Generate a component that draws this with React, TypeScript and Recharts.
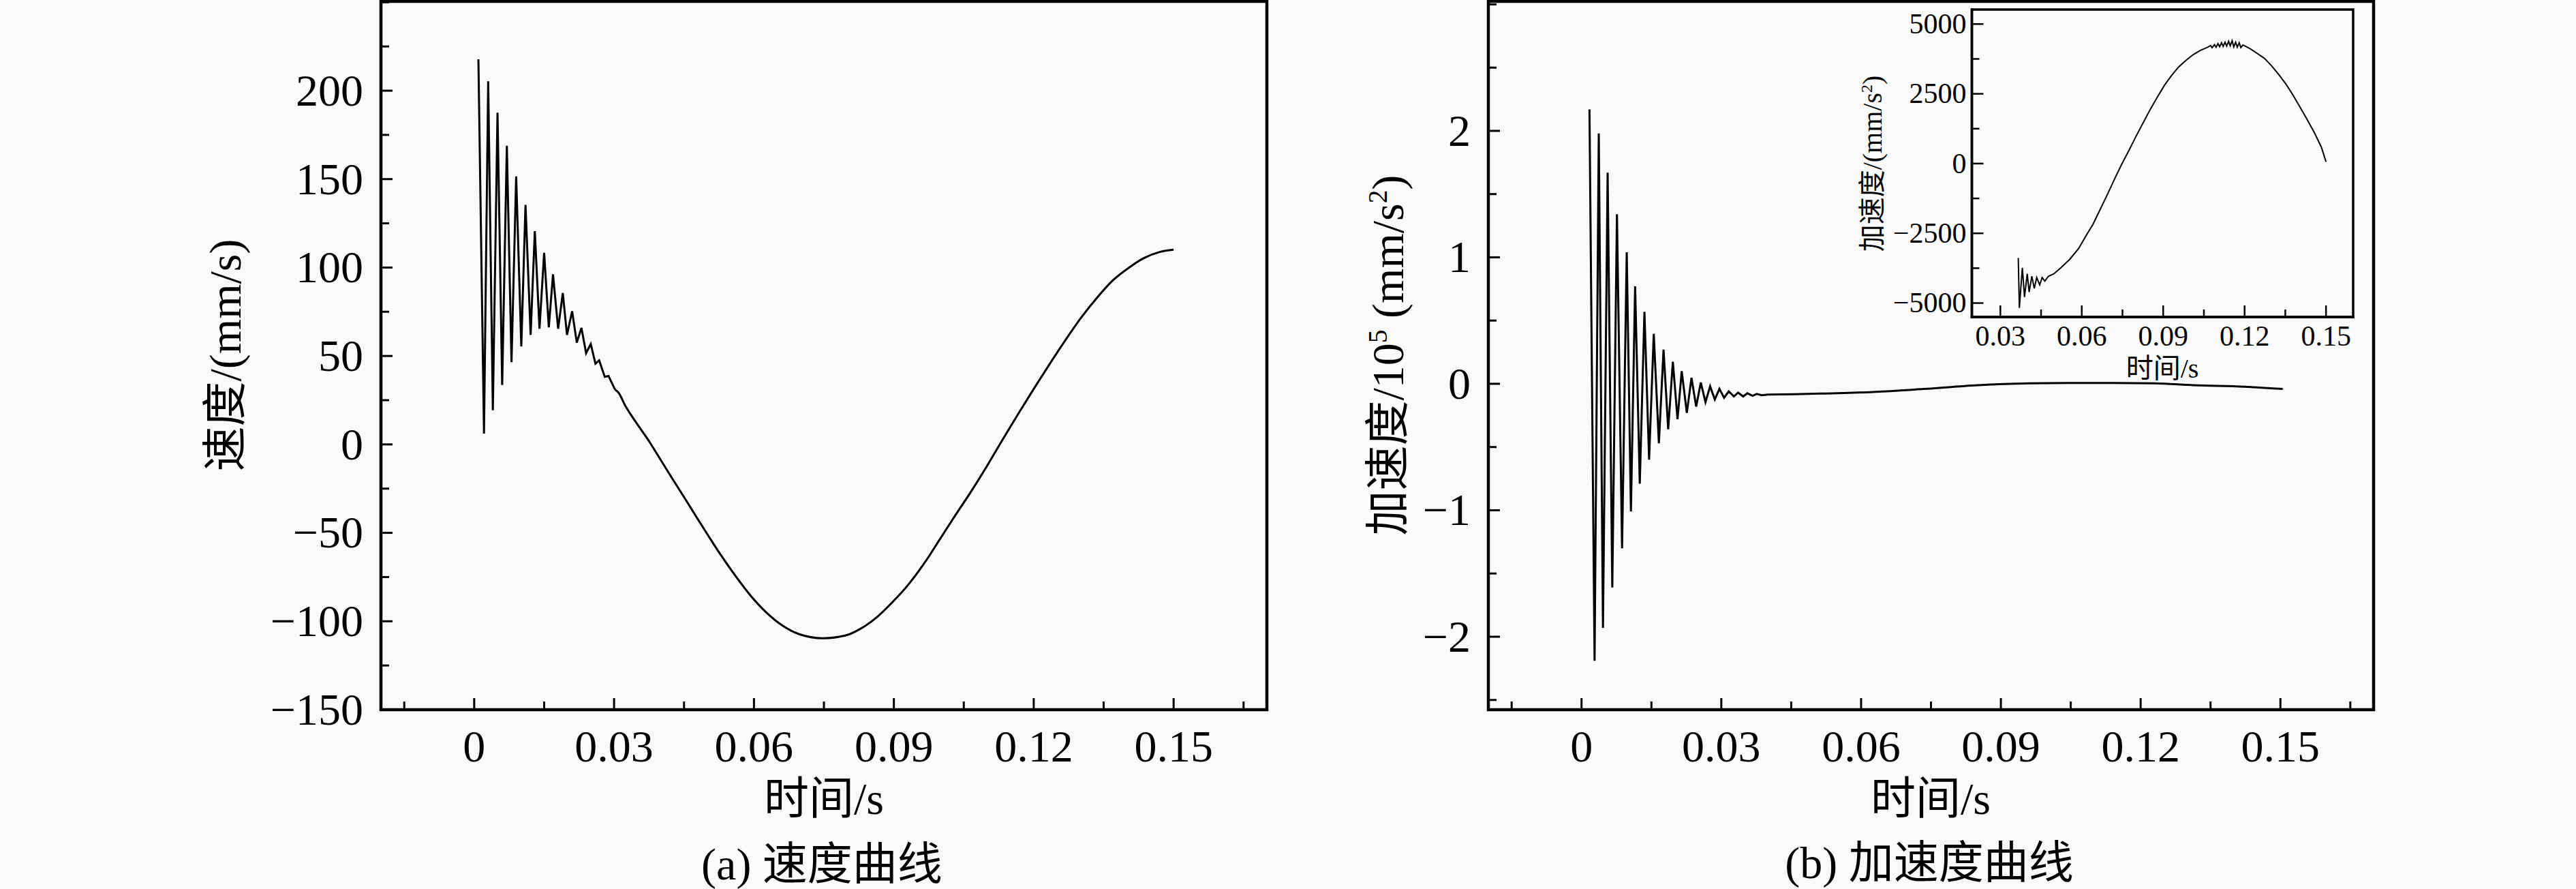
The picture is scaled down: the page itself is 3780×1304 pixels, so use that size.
import React from "react";
import { LineChart, Line, XAxis, YAxis, ReferenceArea } from "recharts";

const FONT = "'Liberation Serif', 'Times New Roman', 'Noto Sans CJK SC', serif";
const BG = "#fafafa";

// (a) velocity, mm/s — decaying vibration, then the smooth part
const velOscTime = [
  0.0009, 0.0021, 0.003, 0.004, 0.005, 0.006, 0.007, 0.008, 0.009, 0.0101,
  0.011, 0.0121, 0.013, 0.014, 0.015, 0.016, 0.0169, 0.018, 0.019, 0.0199,
  0.021, 0.022, 0.023, 0.024, 0.025, 0.026, 0.0268, 0.028, 0.0288, 0.0302,
];
const velOscValue = [
  217.7, 6.1, 205.3, 19.3, 187.6, 33.6, 168.9, 46.5, 151.5, 55.4,
  135.4, 61.9, 120.6, 65.4, 108.3, 66.2, 96.2, 65.4, 85.6, 61.9,
  75.3, 57.6, 65.9, 51.6, 56.8, 45.6, 47.5, 38.2, 38.7, 31.0,
];
const velTime = [
  0.0302, 0.0309, 0.0325, 0.0351, 0.0376, 0.0401, 0.0426, 0.0452, 0.0477, 0.0502,
  0.0527, 0.0561, 0.0595, 0.0628, 0.0662, 0.0696, 0.0748, 0.0797, 0.083, 0.0864,
  0.0898, 0.0931, 0.0965, 0.0999, 0.1032, 0.1066, 0.11, 0.1134, 0.1167, 0.1201,
  0.1234, 0.1268, 0.1302, 0.1336, 0.1369, 0.1403, 0.1436, 0.147, 0.15,
];
const velValue = [
  31.0, 29.4, 21.4, 11.0, 1.4, -9.2, -19.8, -30.6, -41.2, -51.6,
  -61.8, -74.6, -86.2, -95.4, -102.6, -107.2, -109.6, -108.0, -104.0, -97.6,
  -88.9, -79.3, -67.3, -53.5, -40.0, -26.5, -12.1, 3.0, 17.4, 31.8,
  45.4, 59.0, 71.8, 83.0, 92.6, 99.7, 105.3, 108.8, 110.1,
];

// (b) acceleration, 10^5 mm/s^2
const accOscTime = [
  0.0017, 0.0028, 0.0037, 0.0046, 0.0056, 0.0066, 0.0076, 0.0087, 0.0097, 0.0106,
  0.0115, 0.0125, 0.0135, 0.0145, 0.0155, 0.0166, 0.0176, 0.0186, 0.0196, 0.0206,
  0.0215, 0.0226, 0.0236, 0.0246, 0.0256, 0.0266, 0.0276, 0.0286, 0.0296, 0.0306,
  0.0316, 0.0327, 0.0336, 0.0347, 0.0356, 0.0367, 0.0376, 0.0387, 0.04,
];
const accOscValue = [
  2.17, -2.19, 1.98, -1.93, 1.67, -1.61, 1.34, -1.3, 1.04, -1.01,
  0.77, -0.79, 0.57, -0.6, 0.395, -0.47, 0.27, -0.36, 0.175, -0.28,
  0.1, -0.23, 0.047, -0.18, 0.01, -0.145, -0.02, -0.124, -0.04, -0.11,
  -0.06, -0.1, -0.07, -0.1, -0.075, -0.095, -0.08, -0.09, -0.085,
];
const accTime = [0.04, 0.0457, 0.0515, 0.0625, 0.0734, 0.0851, 0.0961, 0.1045, 0.114, 0.1229, 0.1314, 0.1423, 0.1505];
const accValue = [-0.085, -0.083, -0.077, -0.065, -0.041, -0.011, 0.004, 0.007, 0.007, 0.004, -0.011, -0.023, -0.041];

// inset, mm/s^2
const insetTime = [
  0.0366, 0.037, 0.0381, 0.0389, 0.0399, 0.0406, 0.0416, 0.0425, 0.0434, 0.0445,
  0.0454, 0.0464, 0.0477, 0.0497, 0.0523, 0.0556, 0.0589, 0.0615, 0.0642, 0.0668,
  0.0694, 0.0721, 0.0747, 0.0773, 0.08, 0.0826, 0.0852, 0.0878, 0.0905, 0.0931,
  0.0957, 0.0984, 0.101, 0.1036, 0.1062, 0.1075, 0.108, 0.1089, 0.1095, 0.1102,
  0.1108, 0.1115, 0.1121, 0.1128, 0.1134, 0.1141, 0.1147, 0.1154, 0.116, 0.1167,
  0.1173, 0.118, 0.1186, 0.1194, 0.122, 0.1247, 0.1273, 0.1299, 0.1325, 0.1352,
  0.1378, 0.1404, 0.143, 0.1457, 0.1483, 0.15,
];
const insetValue = [
  -3385, -5175, -3735, -4782, -3953, -4607, -4040, -4476, -4084, -4346,
  -4084, -4215, -4040, -3953, -3735, -3429, -3037, -2600, -2164, -1640,
  -1117, -550, -26, 454, 977, 1457, 1937, 2373, 2810, 3159,
  3464, 3700, 3900, 4049, 4162, 4230, 4150, 4260, 4170, 4300,
  4190, 4330, 4200, 4350, 4210, 4380, 4220, 4400, 4180, 4350,
  4170, 4330, 4160, 4250, 4119, 3944, 3770, 3508, 3202, 2853,
  2461, 2024, 1588, 1108, 585, 61,
];

// ticks (labelled ones are the long ticks)
const timeTicks = [-0.015, 0, 0.015, 0.03, 0.045, 0.06, 0.075, 0.09, 0.105, 0.12, 0.135, 0.15, 0.165];
const timeLabels = [0, 0.03, 0.06, 0.09, 0.12, 0.15];
const velTicks = [-150, -125, -100, -75, -50, -25, 0, 25, 50, 75, 100, 125, 150, 175, 200, 225, 250];
const velLabels = [-150, -100, -50, 0, 50, 100, 150, 200];
const accTicks = [-2.5, -2, -1.5, -1, -0.5, 0, 0.5, 1, 1.5, 2, 2.5, 3];
const accLabels = [-2, -1, 0, 1, 2];
const insetXTicks = [0.03, 0.045, 0.06, 0.075, 0.09, 0.105, 0.12, 0.135, 0.15];
const insetXLabels = [0.03, 0.06, 0.09, 0.12, 0.15];
const insetYTicks = [-5000, -3750, -2500, -1250, 0, 1250, 2500, 3750, 5000];
const insetYLabels = [-5000, -2500, 0, 2500, 5000];

const zip = (ts: number[], vs: number[]) => ts.map((t, i) => ({ t, v: vs[i] }));
const fmt = (v: number) => (v < 0 ? "\u2212" + String(-v) : String(v));
const has = (list: number[], v: number) => list.some((l) => Math.abs(l - v) < 1e-9);

type TickOpt = { major: number; minor: number; sw: number; fs: number; offset: number };

function xTick(labels: number[], o: TickOpt) {
  return (p: any) => {
    const v = p.payload.value;
    const major = has(labels, v);
    return (
      <g>
        <line x1={p.x} x2={p.x} y1={p.y} y2={p.y - (major ? o.major : o.minor)} stroke="#000" strokeWidth={o.sw} />
        {major && (
          <text x={p.x} y={p.y + o.offset} textAnchor="middle" fontFamily={FONT} fontSize={o.fs} fill="#000">
            {fmt(v)}
          </text>
        )}
      </g>
    );
  };
}

function yTick(labels: number[], o: TickOpt) {
  return (p: any) => {
    const v = p.payload.value;
    const major = has(labels, v);
    return (
      <g>
        <line x1={p.x} x2={p.x + (major ? o.major : o.minor)} y1={p.y} y2={p.y} stroke="#000" strokeWidth={o.sw} />
        {major && (
          <text x={p.x - o.offset} y={p.y + o.fs * 0.33} textAnchor="end" fontFamily={FONT} fontSize={o.fs} fill="#000">
            {fmt(v)}
          </text>
        )}
      </g>
    );
  };
}

function Text({ x, y, size, rotate, children }: any) {
  return (
    <div
      style={{
        position: "absolute",
        left: x,
        top: y,
        transform: `translate(-50%, -50%)${rotate ? " rotate(-90deg)" : ""}`,
        fontFamily: FONT,
        fontSize: size,
        lineHeight: 1.1,
        whiteSpace: "nowrap",
        color: "#000",
      }}
    >
      {children}
    </div>
  );
}

const sup = { fontSize: "0.6em", verticalAlign: "0.6em", lineHeight: 0 };

const mainTick: TickOpt = { major: 17, minor: 12, sw: 3, fs: 66, offset: 76 };
const mainYTick: TickOpt = { major: 17, minor: 12, sw: 3, fs: 66, offset: 26 };
const insetTickX: TickOpt = { major: 17, minor: 11, sw: 2.5, fs: 42, offset: 42 };
const insetTickY: TickOpt = { major: 17, minor: 11, sw: 2.5, fs: 42, offset: 8 };
const axisStyle = { stroke: "#000", strokeWidth: 4, strokeLinecap: "square" as const };

export default function App() {
  const velX = [-0.02, 0.17];
  const velY = [-150, 250.5];
  const accY = [-2.577, 3.024];
  const inX = [0.0195, 0.16];
  const inY = [-5500, 5520];
  return (
    <div style={{ position: "absolute", left: 0, top: 0, width: 3780, height: 1304, background: BG, overflow: "hidden" }}>
      {/* (a) velocity */}
      <div style={{ position: "absolute", left: 0, top: 0 }}>
        <LineChart width={1900} height={1150} margin={{ top: 2, right: 41, left: 359, bottom: 9 }}>
          <XAxis dataKey="t" type="number" domain={velX} allowDataOverflow ticks={timeTicks} interval={0} height={100}
            tickSize={0} tickMargin={0} tickLine={false} axisLine={axisStyle} tick={xTick(timeLabels, mainTick)} />
          <YAxis type="number" domain={velY} allowDataOverflow ticks={velTicks} interval={0} width={200}
            tickSize={0} tickMargin={0} tickLine={false} axisLine={axisStyle} tick={yTick(velLabels, mainYTick)} />
          <ReferenceArea x1={velX[0]} x2={velX[1]} y1={velY[0]} y2={velY[1]} fill="none" stroke="#000" strokeWidth={4.5} ifOverflow="visible" />
          <Line data={zip(velOscTime, velOscValue)} dataKey="v" type="linear" stroke="#000" strokeWidth={3} dot={false} activeDot={false} isAnimationActive={false} />
          <Line data={zip(velTime, velValue)} dataKey="v" type="monotone" stroke="#000" strokeWidth={3} dot={false} activeDot={false} isAnimationActive={false} />
        </LineChart>
      </div>

      {/* (b) acceleration */}
      <div style={{ position: "absolute", left: 1900, top: 0 }}>
        <LineChart width={1880} height={1150} margin={{ top: 2, right: 297, left: 84, bottom: 9 }}>
          <XAxis dataKey="t" type="number" domain={velX} allowDataOverflow ticks={timeTicks} interval={0} height={100}
            tickSize={0} tickMargin={0} tickLine={false} axisLine={axisStyle} tick={xTick(timeLabels, mainTick)} />
          <YAxis type="number" domain={accY} allowDataOverflow ticks={accTicks} interval={0} width={200}
            tickSize={0} tickMargin={0} tickLine={false} axisLine={axisStyle} tick={yTick(accLabels, mainYTick)} />
          <ReferenceArea x1={velX[0]} x2={velX[1]} y1={accY[0]} y2={accY[1]} fill="none" stroke="#000" strokeWidth={4.5} ifOverflow="visible" />
          <Line data={zip(accOscTime, accOscValue)} dataKey="v" type="linear" stroke="#000" strokeWidth={3} dot={false} activeDot={false} isAnimationActive={false} />
          <Line data={zip(accTime, accValue)} dataKey="v" type="monotone" stroke="#000" strokeWidth={3} dot={false} activeDot={false} isAnimationActive={false} />
        </LineChart>
      </div>

      {/* inset */}
      <div style={{ position: "absolute", left: 2700, top: 0 }}>
        <LineChart width={780} height={580} margin={{ top: 14, right: 27, left: 133.5, bottom: 65 }}>
          <XAxis dataKey="t" type="number" domain={inX} allowDataOverflow ticks={insetXTicks} interval={0} height={50}
            tickSize={0} tickMargin={0} tickLine={false} axisLine={{ ...axisStyle, strokeWidth: 3.5 }} tick={xTick(insetXLabels, insetTickX)} />
          <YAxis type="number" domain={inY} allowDataOverflow ticks={insetYTicks} interval={0} width={60}
            tickSize={0} tickMargin={0} tickLine={false} axisLine={{ ...axisStyle, strokeWidth: 3.5 }} tick={yTick(insetYLabels, insetTickY)} />
          <ReferenceArea x1={inX[0]} x2={inX[1]} y1={inY[0]} y2={inY[1]} fill="none" stroke="#000" strokeWidth={3.5} ifOverflow="visible" />
          <Line data={zip(insetTime, insetValue)} dataKey="v" type="linear" stroke="#000" strokeWidth={2} dot={false} activeDot={false} isAnimationActive={false} />
        </LineChart>
      </div>

      {/* titles */}
      <Text x={331} y={521} size={66} rotate>速度/(mm/s)</Text>
      <Text x={1209} y={1172} size={66}>时间/s</Text>
      <Text x={1206} y={1268} size={66}>(a) 速度曲线</Text>

      <Text x={2037} y={521} size={66} rotate>
        加速度/10<span style={sup}>5</span> (mm/s<span style={sup}>2</span>)
      </Text>
      <Text x={2833} y={1172} size={66}>时间/s</Text>
      <Text x={2831} y={1266} size={66}>(b) 加速度曲线</Text>

      <Text x={2748} y={240} size={40} rotate>
        加速度/(mm/s<span style={sup}>2</span>)
      </Text>
      <Text x={3173} y={541} size={40}>时间/s</Text>
    </div>
  );
}
